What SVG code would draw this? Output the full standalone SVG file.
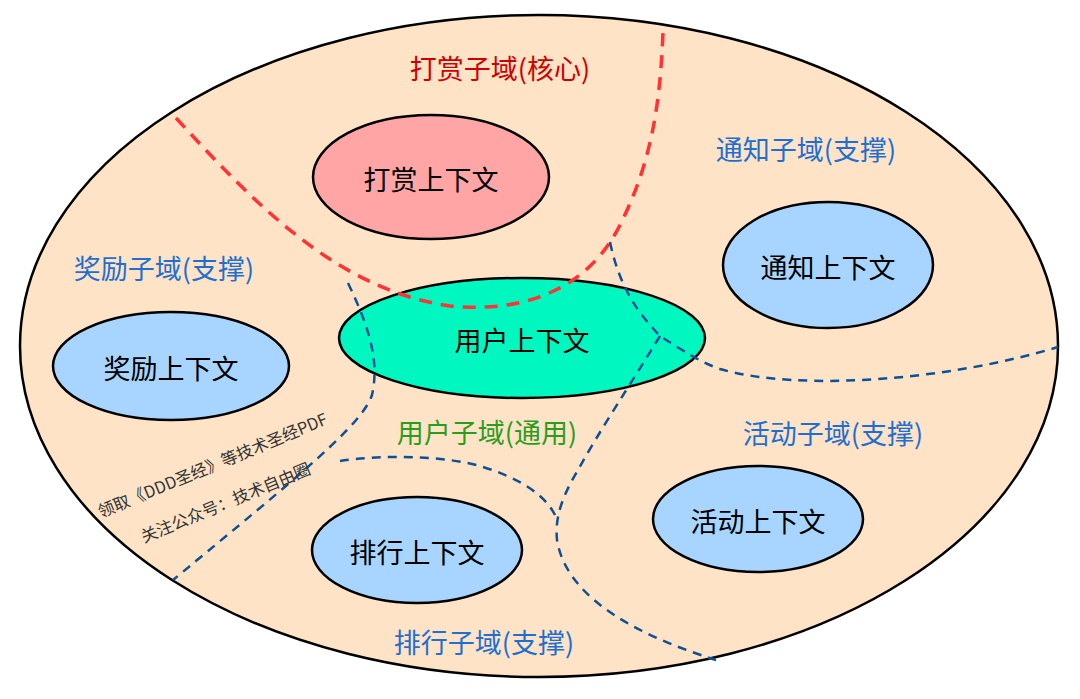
<svg xmlns="http://www.w3.org/2000/svg" width="1080" height="699" viewBox="0 0 1080 699">
<style>
.ctx{stroke:#000;stroke-width:2.5}
.nt{font-family:"Noto Sans CJK SC","Noto Sans",sans-serif;font-size:27px;fill:#000;text-anchor:middle;dominant-baseline:central}
.lb{font-family:"Noto Sans CJK SC","Noto Sans",sans-serif;font-size:27px;text-anchor:middle;dominant-baseline:central}
.blue{fill:#1f6fd1}
.red{stroke:#ff3333;stroke-width:3.5;stroke-dasharray:13 9;fill:none}
.bl{stroke:#0f4f94;stroke-width:2.5;stroke-dasharray:9 7;fill:none}
.wm{font-family:"Noto Sans CJK SC","Noto Sans",sans-serif;font-size:16.5px;fill:#333}
</style>
<rect width="1080" height="699" fill="#fff"/>
<g id="domain">
<ellipse cx="539" cy="346" rx="519" ry="331" fill="#fee3c6" stroke="#000" stroke-width="2.5"/>
</g>
<g id="reward-ctx"><ellipse class="ctx" cx="431" cy="177" rx="118" ry="62" fill="#ffa5a5"/><text class="nt" x="431" y="178">打赏上下文</text></g>
<g id="notify-ctx"><ellipse class="ctx" cx="828" cy="265" rx="105" ry="63" fill="#a8d5ff"/><text class="nt" x="828" y="266">通知上下文</text></g>
<g id="bonus-ctx"><ellipse class="ctx" cx="171" cy="366" rx="118" ry="54" fill="#a8d5ff"/><text class="nt" x="171" y="367">奖励上下文</text></g>
<g id="user-ctx"><ellipse class="ctx" cx="522" cy="338" rx="183" ry="60" fill="#00f8c0"/><text class="nt" x="522" y="339">用户上下文</text></g>
<g id="activity-ctx"><ellipse class="ctx" cx="758" cy="519" rx="105" ry="53" fill="#a8d5ff"/><text class="nt" x="758" y="520">活动上下文</text></g>
<g id="rank-ctx"><ellipse class="ctx" cx="417" cy="550" rx="105" ry="53" fill="#a8d5ff"/><text class="nt" x="417" y="551">排行上下文</text></g>
<g id="connectors">
<path class="red" d="M176,118 C260,210 340,290 450,306 C530,314 590,285 620,225 C650,165 660,110 663,32"/>
<path class="bl" d="M348,283 C368,325 380,360 372,395 C362,425 300,475 173,580"/>
<path class="bl" d="M610,242 C620,290 640,315 660,336 C685,352 700,362 720,369 C800,392 950,380 1058,347"/>
<path class="bl" d="M660,336 C630,385 600,430 578,470 C560,500 555,520 557,540 C565,590 620,630 716,660"/>
<path class="bl" d="M340,461 C380,455 440,455 480,466 C520,478 545,495 555,515"/>
</g>
<g id="labels">
<text class="lb" x="500" y="67" fill="#cc0000">打赏子域(核心)</text>
<text class="lb blue" x="806" y="148">通知子域(支撑)</text>
<text class="lb blue" x="164" y="267">奖励子域(支撑)</text>
<text class="lb" x="487" y="431" fill="#2a9d1f">用户子域(通用)</text>
<text class="lb blue" x="833" y="432">活动子域(支撑)</text>
<text class="lb blue" x="484" y="641">排行子域(支撑)</text>
</g>
<g id="watermark">
<text class="wm" transform="translate(101,518) rotate(-22.5)">领取《DDD圣经》等技术圣经PDF</text>
<text class="wm" transform="translate(144,543) rotate(-22.5)">关注公众号：技术自由圈</text>
</g>
</svg>
